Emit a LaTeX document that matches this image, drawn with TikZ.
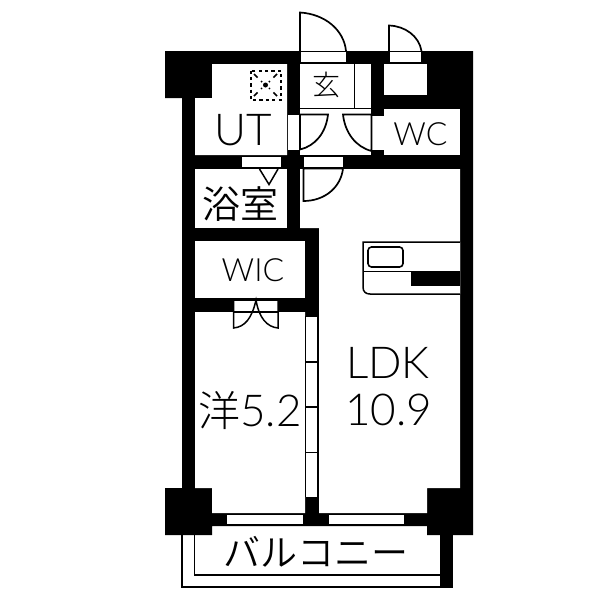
\documentclass[tikz,border=0pt]{standalone}
\usepackage{fontspec}
\setmainfont{Lato Light}
\newfontfamily\jpfont{Noto Sans CJK JP Light}
\newfontfamily\jpreg{Noto Sans CJK JP DemiLight}
\tikzset{
  room/.style={fill=white,draw=none},
  wallfill/.style={fill=black,draw=none},
  thin line/.style={draw=black,line width=1.5pt},
  leaf/.style={draw=black,line width=1.7pt,fill=white},
  lab/.style={inner sep=0pt,text=black,anchor=center},
}
\begin{document}
\begin{tikzpicture}[x=1pt,y=-1pt]
\useasboundingbox[fill=white] (0,0) rectangle (600,600);
% black silhouette
\fill[wallfill] (165,51)--(473,51)--(473,500)--(473,535)--(427,535)--(427,526)--(212,526)--(212,535)--(165,535)--(165,488)--(182,488)--(182,98)--(165,98)--cycle;
% balcony
\draw[thin line,line width=1.7pt] (194.5,535)--(194.5,575)--(440,575);
\draw[thin line,line width=1.7pt] (182,535)--(182,587)--(453,587);
\fill[wallfill] (440,535) rectangle (453,587.8);
% rooms
\fill[room] (212,64)--(287,64)--(287,155)--(195,155)--(195,98)--(212,98)--cycle;
\fill[room] (300,64) rectangle (371,155);
\fill[room] (384,64) rectangle (427,95);
\fill[room] (384,109) rectangle (460,155);
\fill[room] (195,169) rectangle (287,228);
\fill[room] (195,241) rectangle (305,298);
\fill[room] (195,312)--(305,312)--(305,513)--(212,513)--(212,488)--(195,488)--cycle;
\fill[room] (300,169)--(460,169)--(460,488)--(427,488)--(427,513)--(319,513)--(319,228)--(300,228)--cycle;
% openings
\fill[room] (301,52) rectangle (345.5,62);
\fill[room] (390,52) rectangle (421,62);
\fill[room] (288,115) rectangle (299,149.5);
\fill[room] (372,116) rectangle (384,150);
\fill[room] (242,157) rectangle (281,167);
\fill[room] (304,157) rectangle (343,167);
\fill[room] (234,300) rectangle (278,312);
\fill[room] (227,514.5) rectangle (303,524);
\fill[room] (329,514.5) rectangle (404,524);
% genkan step lines
\draw[thin line] (354.5,64)--(354.5,108.5);
\draw[thin line] (300,108.5)--(371,108.5);
% entrance door
\draw[leaf] (300,51)--(300,12.5) .. controls (325,14) and (344,30) .. (346,51);
\draw[thin line,line width=1pt] (300,51)--(346,51);
\draw[leaf,fill=none] (300,62.5)--(300,51);
% closet door
\draw[leaf] (389,51)--(389,25.5) .. controls (405,26) and (419,36) .. (421.5,51);
\draw[thin line,line width=1pt] (389,51)--(421.5,51);
% UT door
\draw[leaf] (300,114.5)--(328,114.5) .. controls (326,133) and (315,146) .. (300,149.5)--cycle;
% WC door
\draw[leaf] (371.5,114.5)--(343,114.5) .. controls (345,133) and (356,147) .. (371.5,151)--cycle;
% LDK door
\draw[leaf] (303.5,168.5)--(343,168.5) .. controls (341,187) and (325,201) .. (303.5,201)--cycle;
% bath door mark
\draw[thin line] (259.5,169)--(269,184.5)--(278,169);
% WIC doors
\draw[thin line,line width=1pt] (233.5,300)--(278,300);
\draw[leaf,fill=none,line width=1.5pt] (233.5,300)--(233.5,328) .. controls (245,327) and (252,318) .. (256,300) .. controls (259,318) and (267,327) .. (278,328)--(278,300);
\draw[thin line] (233.5,312)--(278,312);
% sliding partition
\fill[room] (306,317) rectangle (317,497);
\draw[thin line] (305.5,316)--(305.5,497);
\draw[thin line] (306,362)--(318,362);
\draw[thin line] (306,407)--(318,407);
\draw[thin line] (306,452.5)--(318,452.5);
% kitchen
\draw[line width=1.5pt,fill=white] (460,242)--(363,242)--(363,287) .. controls (363,292) and (366,294) .. (370,294)--(460,294);
\draw[line width=1.2pt] (363,271.5)--(460,271.5);
\fill[wallfill] (411,271.5) rectangle (460,286);
\draw[line width=1.6pt,rounded corners=3.5pt] (368,247) rectangle (403,267);
% ventilation
\draw[line width=2pt,dash pattern=on 3.2pt off 3.2pt] (250.5,70.5) rectangle (281,100);
\draw[line width=1.5pt,dash pattern=on 5pt off 5pt] (254,74)--(262,82);
\draw[line width=1.5pt,dash pattern=on 5pt off 5pt] (277,74)--(269,82);
\draw[line width=1.5pt,dash pattern=on 5pt off 5pt] (254,96)--(262,88);
\draw[line width=1.5pt,dash pattern=on 5pt off 5pt] (277,96)--(269,88);
\fill (265.5,85) circle (2.5pt);
% labels
\node[lab,font=\fontsize{44}{44}\selectfont] (ut) at (243.5,130) {UT};
\node[lab,font=\fontsize{32}{32}\selectfont] (wc) at (420.5,134) {WC};
\node[lab,font=\fontsize{32}{32}\selectfont] (wic) at (253,270) {WIC};
\node[lab,font=\jpfont\fontsize{28}{28}\selectfont] (gen) at (326.5,85) {玄};
\node[lab,font=\jpreg\fontsize{38}{38}\selectfont] (bath) at (240.5,204) {浴室};
\node[lab,font=\fontsize{44}{44}\selectfont] (ldk) at (388,363) {LDK};
\node[lab,font=\fontsize{44}{44}\selectfont] (ldks) at (388.5,410) {10.9};
\node[lab] (yo) at (250,410) {{\jpfont\fontsize{42}{42}\selectfont 洋}{\fontsize{44}{44}\selectfont 5.2}};
\node[lab,font=\jpreg\fontsize{37}{37}\selectfont] (bal) at (316,552) {バルコニー};
\end{tikzpicture}
\end{document}
